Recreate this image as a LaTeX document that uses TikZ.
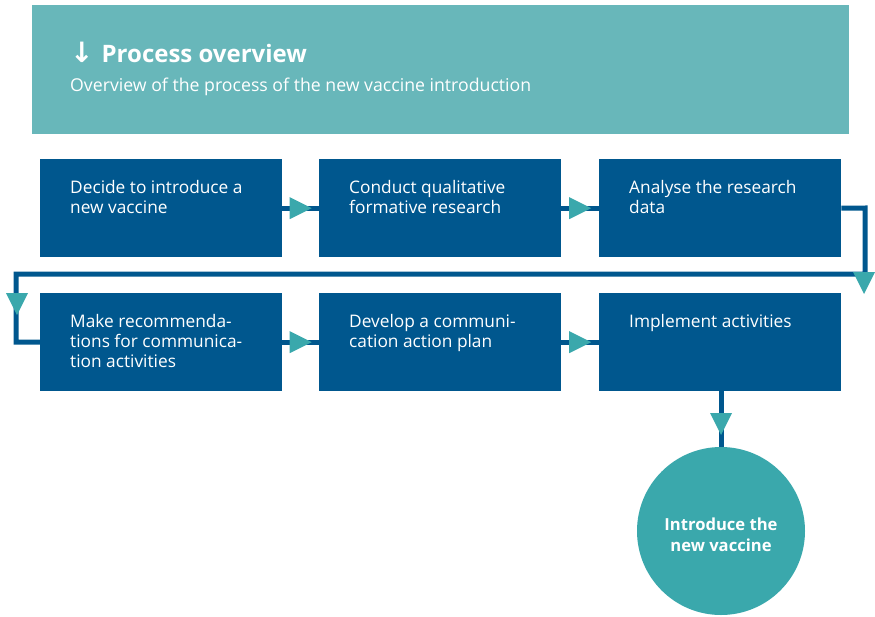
\documentclass[tikz,border=0pt]{standalone}
\usepackage{fontspec}
\setmainfont{Open Sans}
\newfontfamily\arrowfont{DejaVu Sans}
\usetikzlibrary{calc}
\definecolor{headc}{HTML}{68B7BA}
\definecolor{boxc}{HTML}{00578E}
\definecolor{tric}{HTML}{3AA8AC}
\tikzset{
  box/.style={fill=boxc, draw=none, minimum width=242pt, minimum height=98pt, anchor=north west, inner sep=0pt},
  boxtext/.style={anchor=north west, inner sep=0pt, align=left, text=white, font=\fontsize{17.3}{20}\selectfont},
  conn/.style={draw=boxc, line width=5pt},
}
\newcommand\downtri[1]{\fill[tric] ($(#1)+(-11,0)$) -- ($(#1)+(11,0)$) -- ($(#1)+(0,22)$) -- cycle;}
\newcommand\righttri[1]{\fill[tric] ($(#1)+(-11,-11)$) -- ($(#1)+(-11,11)$) -- ($(#1)+(11,0)$) -- cycle;}
\begin{document}
\begin{tikzpicture}[x=1pt,y=-1pt]
\useasboundingbox (0,0) rectangle (875,616);
\fill[headc] (32,5) rectangle (849,134);
\node[anchor=base west, inner sep=0pt, text=white, font=\fontsize{24}{28}\selectfont\bfseries] (title) at (70,62) {{\arrowfont\bfseries\fontsize{28}{28}\selectfont ↓}\hspace{8pt}Process overview};
\node[anchor=base west, inner sep=0pt, text=white, font=\fontsize{17.7}{20}\selectfont] (sub) at (70,91) {Overview of the process of the new vaccine introduction};
% boxes
\node[box] (b1) at (40,159) {};
\node[box] (b2) at (319,159) {};
\node[box] (b3) at (599,159) {};
\node[box] (b4) at (40,293) {};
\node[box] (b5) at (319,293) {};
\node[box] (b6) at (599,293) {};
\node[boxtext] (t1) at ($(b1.north west)+(30,21)$) {Decide to introduce a\\new vaccine};
\node[boxtext] (t2) at ($(b2.north west)+(30,21)$) {Conduct qualitative\\formative research};
\node[boxtext] (t3) at ($(b3.north west)+(30,21)$) {Analyse the research\\data};
\node[boxtext] (t4) at ($(b4.north west)+(30,21)$) {Make recommenda-\\tions for communica-\\tion activities};
\node[boxtext] (t5) at ($(b5.north west)+(30,21)$) {Develop a communi-\\cation action plan};
\node[boxtext] (t6) at ($(b6.north west)+(30,21)$) {Implement activities};
% circle
\node[circle, fill=tric, minimum size=168pt, inner sep=0pt] (c) at (721,531) {};
\node[align=center, inner sep=0pt, text=white, font=\fontsize{16.6}{21}\selectfont\bfseries] (ct) at ($(c.center)+(0,4)$) {Introduce the\\new vaccine};
% connectors
\coordinate (r1) at (865,208);
\coordinate (r2) at (865,274);
\coordinate (l1) at (16,274);
\draw[conn] (b1.east) -- (b2.west);
\draw[conn] (b2.east) -- (b3.west);
\draw[conn] (b4.east) -- (b5.west);
\draw[conn] (b5.east) -- (b6.west);
\draw[conn, line join=miter] (b3.east) -- (r1) -- (r2) -- (l1) |- (b4.west);
\draw[conn] (b6.south -| c.north) -- (c.north);
% arrowheads
\righttri{$(b1.east)!0.5!(b2.west)$}
\righttri{$(b2.east)!0.5!(b3.west)$}
\righttri{$(b4.east)!0.5!(b5.west)$}
\righttri{$(b5.east)!0.5!(b6.west)$}
\downtri{864,272}
\downtri{17,293}
\downtri{721,413}
\end{tikzpicture}
\end{document}
